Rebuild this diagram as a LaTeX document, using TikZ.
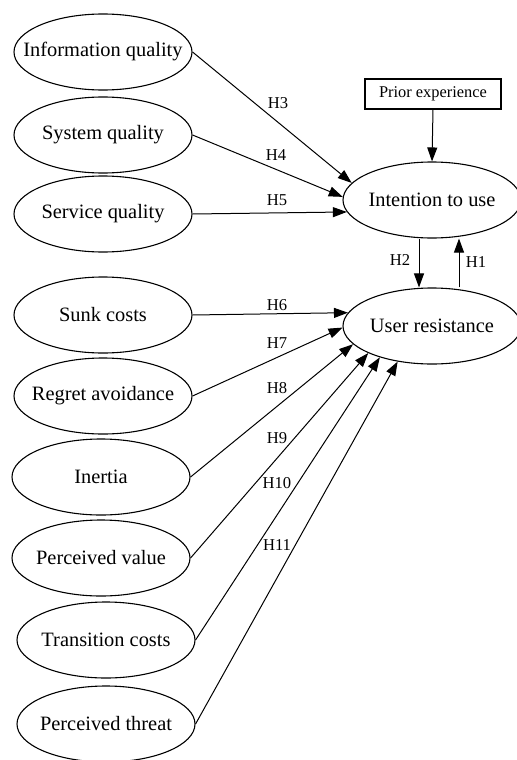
\documentclass[tikz,border=0pt]{standalone}
\usepackage{fontspec}
\setmainfont{Liberation Serif}
\usetikzlibrary{shapes.geometric,arrows.meta}

\tikzset{
  construct/.style={ellipse, draw, line width=0.55pt, minimum width=89pt,
    minimum height=38pt, inner sep=0pt, font=\fontsize{10.2}{12}\selectfont,
    execute at begin node={\hbox to 0pt\bgroup\hss},
    execute at end node={\hss\egroup}},
  moderator/.style={rectangle, draw, line width=0.55pt, minimum width=68pt,
    minimum height=15pt, inner sep=0pt, font=\fontsize{8.2}{10}\selectfont},
  hyp/.style={inner sep=0pt, font=\fontsize{8.3}{10}\selectfont},
  link/.style={-{Triangle[length=7pt,width=5pt]}, line width=0.5pt}
}

\begin{document}
\begin{tikzpicture}[x=0.5pt, y=0.5pt]
  \useasboundingbox (0,0) rectangle (517,-760);

  % Antecedent constructs
  \node[construct] (iq) at (103,-52) {Information quality};
  \node[construct] (sq) at (103,-135) {System quality};
  \node[construct] (svq) at (103,-214) {Service quality};
  \node[construct] (sc) at (103,-315) {Sunk costs};
  \node[construct] (ra) at (103,-396) {Regret avoidance};
  \node[construct] (in) at (101,-477) {Inertia};
  \node[construct] (pv) at (101,-558) {Perceived value};
  \node[construct] (tc) at (106,-640) {Transition costs};
  \node[construct] (pt) at (106,-724) {Perceived threat};

  % Outcome constructs
  \node[construct] (itu) at (432,-200) {Intention to use};
  \node[construct] (ur) at (432,-326) {User resistance};
  \node[moderator] (pe) at (433,-94) {Prior experience};

  % Paths to intention to use
  \draw[link] (pe.south) -- (itu.north);
  \draw[link] (iq.east) -- (itu.168);
  \draw[link] (sq.east) -- (itu.178);
  \draw[link] (svq.east) -- (itu.188);

  % Paths to user resistance
  \draw[link] (sc.east) -- (ur.171);
  \draw[link] (ra.east) -- (ur.181);
  \draw[link] (in.east) -- (ur.193);
  \draw[link] (pv.east) -- (ur.203);
  \draw[link] (tc.east) -- (ur.211);
  \draw[link] (pt.east) -- (ur.226);

  % Reciprocal paths
  \draw[link] ([xshift=-6.5pt]itu.south) -- ([xshift=-6.5pt]ur.north);
  \draw[link] ([xshift=13.5pt]ur.north) -- ([xshift=13.5pt]itu.south);

  % Hypothesis labels
  \node[hyp] (h1) at (476,-262) {H1};
  \node[hyp] (h2) at (400,-260) {H2};
  \node[hyp] (h3) at (278,-103) {H3};
  \node[hyp] (h4) at (276,-155) {H4};
  \node[hyp] (h5) at (277,-200) {H5};
  \node[hyp] (h6) at (277,-305) {H6};
  \node[hyp] (h7) at (277,-343) {H7};
  \node[hyp] (h8) at (277,-388) {H8};
  \node[hyp] (h9) at (277,-438) {H9};
  \node[hyp] (h10) at (277,-483) {H10};
  \node[hyp] (h11) at (277,-545) {H11};
\end{tikzpicture}
\end{document}
